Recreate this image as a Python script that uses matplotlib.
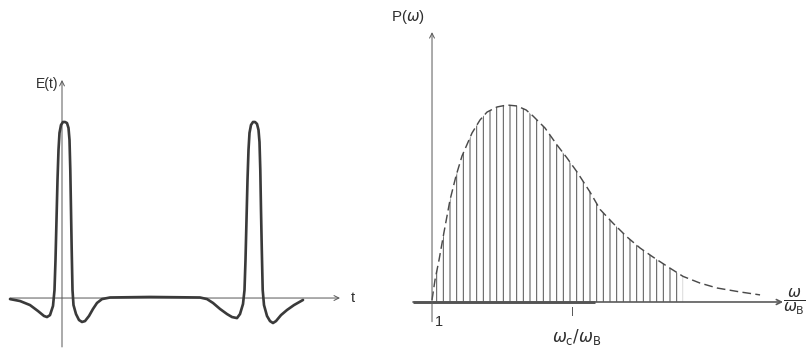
import matplotlib
matplotlib.use('Agg')
import matplotlib.pyplot as plt

# ── Data ──────────────────────────────────────────────────────────────────────
# left: field of two pulses, t in arbitrary units, E normalised to peak = 1
t_vals = [-5.2, -4.2, -3.2, -2.4, -1.8, -1.5, -1.2, -0.9, -0.75, -0.65, -0.55,
          -0.45, -0.35, -0.25, -0.1, 0.1, 0.3, 0.5, 0.65, 0.75, 0.83, 0.9, 0.97,
          1.05, 1.15, 1.4, 1.7, 2.0, 2.3, 2.7, 3.1, 3.5, 4.0, 4.8, 8.8, 13.8,
          14.5, 15.1, 15.8, 16.5, 17.0, 17.5, 17.8, 18.1, 18.25, 18.35, 18.45,
          18.55, 18.65, 18.75, 18.9, 19.1, 19.3, 19.5, 19.65, 19.75, 19.83,
          19.9, 19.98, 20.07, 20.2, 20.5, 20.8, 21.1, 21.4, 21.9, 22.5, 23.2,
          24.1]
E_vals = [-0.006, -0.017, -0.04, -0.074, -0.102, -0.108, -0.097, -0.045, 0.045,
          0.216, 0.443, 0.670, 0.841, 0.938, 0.983, 1.0, 1.0, 0.994, 0.966,
          0.898, 0.727, 0.5, 0.273, 0.045, -0.04, -0.091, -0.125, -0.136,
          -0.131, -0.102, -0.062, -0.028, -0.006, 0.003, 0.006, 0.003, -0.006,
          -0.028, -0.062, -0.091, -0.108, -0.114, -0.091, -0.034, 0.045, 0.216,
          0.443, 0.670, 0.841, 0.938, 0.983, 1.0, 1.0, 0.989, 0.955, 0.886,
          0.727, 0.5, 0.273, 0.045, -0.04, -0.102, -0.131, -0.142, -0.131,
          -0.097, -0.068, -0.04, -0.011]

# right: spectrum P(w), w in units of w_B, P normalised to peak = 1
w_vals = [1.0, 1.107, 1.25, 1.429, 1.643, 1.857, 2.071, 2.429, 2.714, 2.964,
          3.321, 3.679, 4.036, 4.357, 4.607, 5.036, 5.464, 5.821, 6.179, 6.643,
          7.0, 7.464, 7.964, 8.429, 8.893, 9.429, 9.964, 10.571, 11.179, 12.0,
          12.714]
P_vals = [0.01, 0.112, 0.213, 0.355, 0.518, 0.640, 0.741, 0.858, 0.924, 0.964,
          0.990, 1.0, 0.995, 0.975, 0.944, 0.883, 0.797, 0.731, 0.660, 0.558,
          0.470, 0.400, 0.330, 0.274, 0.228, 0.178, 0.130, 0.096, 0.071, 0.051,
          0.036]
n_hatched = 27            # harmonics drawn up to w ~ 10
w_crit = 6.0              # w_c / w_B tick

# ── Style ────────────────────────────────────────────────────────────────────
plt.rcParams['font.family'] = ['Liberation Sans', 'DejaVu Sans']
plt.rcParams['hatch.color'] = '#555555'
plt.rcParams['hatch.linewidth'] = 0.9
AX = '#5a5a5a'
CURVE = '#3a3a3a'
TXT = '#2e2e2e'

DPI = 80
fig = plt.figure(figsize=(807 / DPI, 354 / DPI), dpi=DPI)
fig.patch.set_facecolor('white')


def arrow(ax, start, end, lw=0.9, color=AX):
    ax.annotate('', xy=end, xytext=start,
                arrowprops=dict(arrowstyle='->', lw=lw, color=color,
                                shrinkA=0, shrinkB=0, mutation_scale=11))


# ── Left panel: E(t) ─────────────────────────────────────────────────────────
ax1 = fig.add_axes([0, 0, 400 / 807, 1])
ax1.set_xlim(-6.2, 33.8)
ax1.set_ylim(-0.318, 1.693)
ax1.axis('off')

arrow(ax1, (-5.2, 0), (27.8, 0))
arrow(ax1, (0, -0.278), (0, 1.239))
ax1.plot(t_vals, E_vals, color=CURVE, lw=2.4, solid_joinstyle='round',
         solid_capstyle='round', zorder=3)
ax1.text(28.9, 0, 't', fontsize=13, color=TXT, va='center', ha='left')
ax1.text(-0.4, 1.215, 'E(t)', fontsize=12.5, color=TXT, va='center',
         ha='right')

# ── Right panel: P(w) ────────────────────────────────────────────────────────
ax2 = fig.add_axes([400 / 807, 0, 407 / 807, 1])
ax2.set_xlim(-0.143, 14.39)
ax2.set_ylim(-0.264, 1.533)
ax2.axis('off')

arrow(ax2, (0.321, 0), (13.536, 0), lw=1.5)
ax2.plot([0.321, 6.82], [0, 0], color='#3a3a3a', lw=2.4, solid_capstyle='butt')
arrow(ax2, (1.0, -0.10), (1.0, 1.37))
ax2.plot([w_crit, w_crit], [-0.025, -0.065], color=AX, lw=0.9)

ax2.fill_between(w_vals[:n_hatched], 0, P_vals[:n_hatched], facecolor='none',
                 edgecolor='#555555', linewidth=0, hatch='||')
ax2.plot(w_vals, P_vals, color='#4a4a4a', lw=1.3, dashes=(6, 3))

ax2.text(1.12, -0.10, '1', fontsize=13, color=TXT, va='center', ha='left')
ax2.text(w_crit + 0.18, -0.18, r'$\omega_{\rm c}/\omega_{\rm B}$',
         fontsize=15, color=TXT, va='center', ha='center')
ax2.text(0.75, 1.447, r'P($\omega$)', fontsize=13.5, color=TXT,
         va='center', ha='right')
ax2.text(13.55, 0.0, r'$\dfrac{\omega}{\omega_{\rm B}}$', fontsize=14,
         color=TXT, va='center', ha='left')

fig.savefig('out.png', dpi=DPI, facecolor='white')
